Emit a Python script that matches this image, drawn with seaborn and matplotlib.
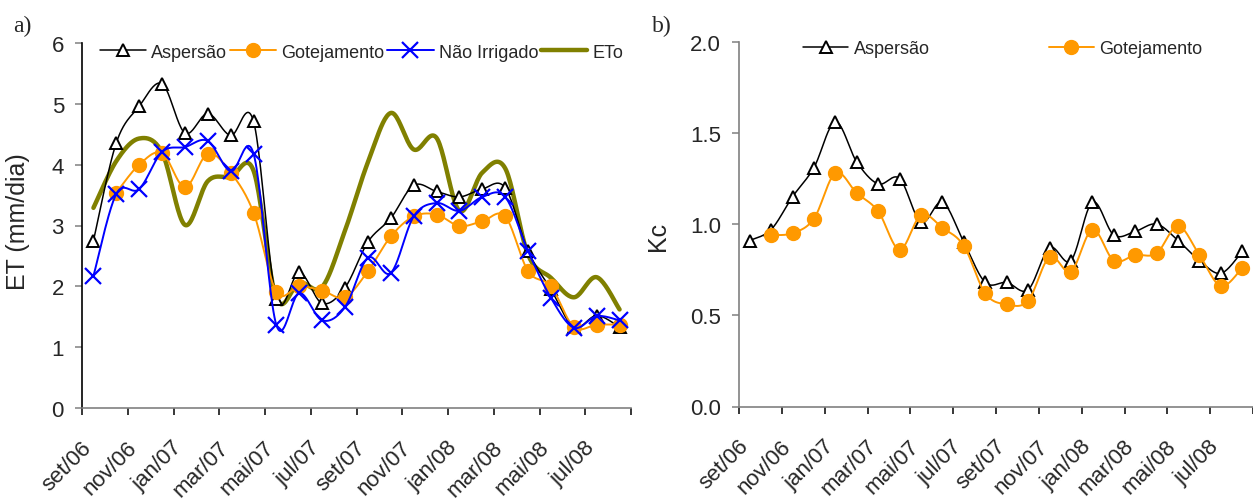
import numpy as np
import pandas as pd
import matplotlib
matplotlib.use("Agg")
import matplotlib.pyplot as plt
import seaborn as sns
from matplotlib.lines import Line2D
from matplotlib.transforms import ScaledTranslation

# ---------------- data ----------------
months = ["set/06", "out/06", "nov/06", "dez/06", "jan/07", "fev/07", "mar/07", "abr/07",
          "mai/07", "jun/07", "jul/07", "ago/07", "set/07", "out/07", "nov/07", "dez/07",
          "jan/08", "fev/08", "mar/08", "abr/08", "mai/08", "jun/08", "jul/08", "ago/08"]
tick_labels = ["set/06", "nov/06", "jan/07", "mar/07", "mai/07", "jul/07",
               "set/07", "nov/07", "jan/08", "mar/08", "mai/08", "jul/08", ""]

et_aspersao = [2.75, 4.36, 4.96, 5.33, 4.52, 4.84, 4.48, 4.71, 1.80, 2.23, 1.72, 1.98,
               2.73, 3.12, 3.66, 3.56, 3.47, 3.60, 3.62, 2.58, 1.95, 1.33, 1.52, 1.33]
et_gotejamento = [np.nan, 3.54, 4.00, 4.19, 3.63, 4.18, 3.87, 3.21, 1.91, 2.00, 1.93, 1.82,
                  2.25, 2.82, 3.15, 3.18, 2.99, 3.07, 3.15, 2.25, 2.00, 1.33, 1.37, 1.37]
et_nao_irrigado = [2.17, 3.52, 3.60, 4.21, 4.29, 4.39, 3.89, 4.18, 1.36, 1.89, 1.44, 1.66,
                   2.47, 2.22, 3.15, 3.37, 3.24, 3.47, 3.47, 2.58, 1.81, 1.32, 1.51, 1.44]
eto = [3.29, 4.06, 4.43, 4.20, 3.01, 3.73, 3.80, 3.90, 1.80, 2.06, 1.99, 2.92,
       4.04, 4.85, 4.25, 4.44, 3.24, 3.87, 3.94, 2.52, 2.14, 1.82, 2.15, 1.62]

kc_aspersao = [0.91, 0.97, 1.15, 1.31, 1.56, 1.34, 1.22, 1.25, 1.01, 1.12, 0.90, 0.68,
               0.68, 0.64, 0.87, 0.80, 1.12, 0.94, 0.96, 1.00, 0.91, 0.80, 0.73, 0.85]
kc_gotejamento = [np.nan, 0.94, 0.95, 1.03, 1.28, 1.17, 1.07, 0.86, 1.05, 0.98, 0.88, 0.62,
                  0.56, 0.58, 0.82, 0.74, 0.97, 0.80, 0.83, 0.84, 0.99, 0.83, 0.66, 0.76]

# ---------------- helpers ----------------
def smooth(y, n=24):
    """Excel-like smoothed line (Catmull-Rom Bezier) through the valid points."""
    x = np.arange(len(y), dtype=float)
    y = np.asarray(y, dtype=float)
    m = ~np.isnan(y)
    P = np.column_stack([x[m], y[m]])
    out = []
    t = np.linspace(0, 1, n)[:, None]
    for i in range(len(P) - 1):
        p0 = P[i - 1] if i > 0 else P[i]
        p1, p2 = P[i], P[i + 1]
        p3 = P[i + 2] if i + 2 < len(P) else P[i + 1]
        b1 = p1 + (p2 - p0) / 6.0
        b2 = p2 - (p3 - p1) / 6.0
        seg = ((1 - t) ** 3) * p1 + 3 * ((1 - t) ** 2) * t * b1 + 3 * (1 - t) * t ** 2 * b2 + t ** 3 * p2
        out.append(seg if i == 0 else seg[1:])
    pts = np.vstack(out)
    return pd.DataFrame({"x": pts[:, 0], "y": pts[:, 1]})


sns.set_theme(style="white")
plt.rcParams["font.family"] = ["Liberation Sans", "DejaVu Sans"]

W, H = 1253, 502
fig = plt.figure(figsize=(W / 100, H / 100), dpi=100)
axL = fig.add_axes([82 / W, (H - 409) / H, (631 - 82) / W, (409 - 44) / H])
axR = fig.add_axes([739 / W, (H - 407.5) / H, (1253 - 739) / W, (407.5 - 42.7) / H])

ORANGE = "#FF9900"
BLUE = "#0000FF"
OLIVE = "#808000"
GRAY = "#808080"

styles = {
    "Aspersão": dict(color="black", lw=1.1, marker="^", ms=9, mfc="white", mec="black", mew=1.4),
    "Gotejamento": dict(color=ORANGE, lw=1.4, marker="o", ms=10, mfc=ORANGE, mec=ORANGE, mew=1),
    "Não Irrigado": dict(color=BLUE, lw=1.4, marker="x", ms=11, mfc=BLUE, mec=BLUE, mew=1.6),
    "ETo": dict(color=OLIVE, lw=3.2, marker=None),
}


def draw(ax, name, y, z):
    st = styles[name]
    df = smooth(y)
    sns.lineplot(data=df, x="x", y="y", ax=ax, color=st["color"], lw=st["lw"],
                 sort=False, estimator=None, zorder=z, legend=False)
    if st["marker"]:
        ya = np.asarray(y, dtype=float)
        xa = np.arange(len(ya))
        ax.plot(xa, ya, ls="none", marker=st["marker"], ms=st["ms"], mfc=st["mfc"],
                mec=st["mec"], mew=st["mew"], zorder=z + 0.5, clip_on=False)


def handle(name):
    st = styles[name]
    if st["marker"]:
        return Line2D([], [], color=st["color"], lw=st["lw"], marker=st["marker"], ms=st["ms"],
                      mfc=st["mfc"], mec=st["mec"], mew=st["mew"])
    return Line2D([], [], color=st["color"], lw=st["lw"])


# ---------------- left panel ----------------
draw(axL, "ETo", eto, 2)
draw(axL, "Aspersão", et_aspersao, 3)
draw(axL, "Gotejamento", et_gotejamento, 4)
draw(axL, "Não Irrigado", et_nao_irrigado, 5)

axL.set_xlim(-0.5, 23.5)
axL.set_ylim(0, 6)
axL.set_yticks(range(0, 7))
axL.set_yticklabels([str(v) for v in range(0, 7)])

# ---------------- right panel ----------------
draw(axR, "Aspersão", kc_aspersao, 3)
draw(axR, "Gotejamento", kc_gotejamento, 4)
axR.set_xlim(-0.5, -0.5 + (1253 - 739) / 21.68)
axR.set_ylim(0, 2.0)
axR.set_yticks([0, 0.5, 1.0, 1.5, 2.0])
axR.set_yticklabels(["0.0", "0.5", "1.0", "1.5", "2.0"])

for ax, lc in ((axL, "black"), (axR, GRAY)):
    ax.set_xticks(np.arange(-0.5, 24, 2))
    ax.set_xticklabels(tick_labels)
    for s in ("top", "right"):
        ax.spines[s].set_visible(False)
    ax.spines["left"].set_color(lc)
    ax.spines["bottom"].set_color(GRAY)
    ax.spines["left"].set_linewidth(1.2)
    ax.spines["bottom"].set_linewidth(1.2)
    ax.tick_params(axis="x", direction="out", length=5, width=1.1, color="black",
                   labelsize=16, pad=21, bottom=True)
    ax.tick_params(axis="y", direction="out", length=5, width=1.1, color=GRAY,
                   labelsize=16, pad=8, left=True)
    ax.set_xlabel("")
    for lab in ax.get_xticklabels():
        lab.set_rotation(45)
        lab.set_ha("right")
        lab.set_va("center")
        lab.set_rotation_mode("anchor")
        lab.set_transform(lab.get_transform() + ScaledTranslation(6 / 100, 0, fig.dpi_scale_trans))
    ax.grid(False)

axL.set_ylabel("ET (mm/dia)", fontsize=18)
axL.yaxis.set_label_coords((30 - 82) / 549, (409 - 222) / 365)
axR.set_ylabel("Kc", fontsize=18)
axR.yaxis.set_label_coords((670 - 739) / 514, (407.5 - 236) / 364.8)

# legends
names_L = ["Aspersão", "Gotejamento", "Não Irrigado", "ETo"]
axL.legend([handle(n) for n in names_L], names_L, ncol=4, frameon=False, fontsize=13,
           loc="center left", bbox_to_anchor=(100 / W, 1 - 53 / H), bbox_transform=fig.transFigure,
           borderpad=0, borderaxespad=0, handlelength=2.55, handletextpad=0.3, columnspacing=0.15)
names_R = ["Aspersão", "Gotejamento"]
axR.legend([handle(n) for n in names_R], names_R, ncol=2, frameon=False, fontsize=13,
           loc="center left", bbox_to_anchor=(803 / W, 1 - 50 / H), bbox_transform=fig.transFigure,
           borderpad=0, borderaxespad=0, handlelength=2.5, handletextpad=0.3, columnspacing=6.6)

fig.text(13 / W, 1 - 26 / H, "a)", fontsize=17, family=["Liberation Serif", "DejaVu Serif"], va="center")
fig.text(652 / W, 1 - 26 / H, "b)", fontsize=17, family=["Liberation Serif", "DejaVu Serif"], va="center")

fig.savefig("out.png", dpi=100)
